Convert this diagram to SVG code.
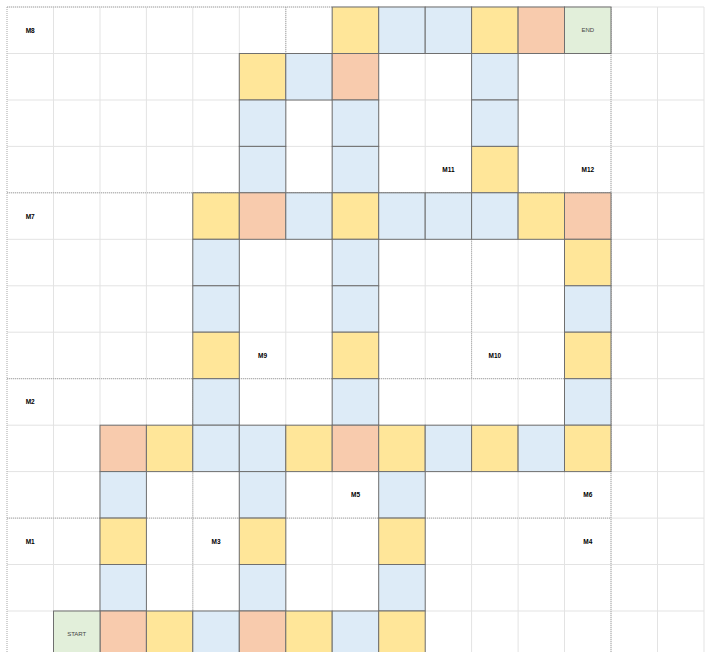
<svg xmlns="http://www.w3.org/2000/svg" width="714" height="652" viewBox="0 0 714 652">
<style>
.grid{stroke:#e3e3e3;stroke-width:1;fill:none}
.dot{stroke:#a6a6a6;stroke-width:1;stroke-dasharray:1 1;fill:none}
.c{stroke:#6f6f6f;stroke-width:1}
.y{fill:#FFE699}
.b{fill:#DDEBF7}
.o{fill:#F8CBAD}
.g{fill:#E2EFDA}
.lbl{font-family:"Liberation Sans",Arial,sans-serif;font-size:6.5px;font-weight:bold;fill:#000;text-anchor:middle}
.se{font-family:"Liberation Sans",Arial,sans-serif;font-size:6px;fill:#444;text-anchor:middle}
</style>
<rect x="0" y="0" width="714" height="652" fill="#fff"/>
<g id="grid">
<path class="grid" d="M53.5 7V652M100 7V652M146.4 7V652M192.8 7V652M239.3 7V652M285.8 7V652M332.2 7V652M378.7 7V652M425.2 7V652M471.6 7V652M518.1 7V652M564.5 7V652M611 7V652M657.5 7V652M704 7V652"/>
<path class="grid" d="M7 7H704M7 53.5H704M7 100H704M7 146.4H704M7 192.8H704M7 239.3H704M7 285.8H704M7 332.2H704M7 378.7H704M7 425.2H704M7 471.6H704M7 518.1H704M7 564.5H704M7 611H704"/>
<path class="dot" d="M7 7V652M7 7H332M7 192.8H611M7 378.7H611M7 518.1H611M611 7V652M192.8 378.7V652M471.6 192.8V378.7M285.8 7V53.5"/>
</g>
<g id="cells">
<g id="r0"><rect class="c y" x="332.2" y="7" width="46.5" height="46.5"/><rect class="c b" x="378.7" y="7" width="46.5" height="46.5"/><rect class="c b" x="425.2" y="7" width="46.4" height="46.5"/><rect class="c y" x="471.6" y="7" width="46.5" height="46.5"/><rect class="c o" x="518.1" y="7" width="46.4" height="46.5"/></g>
<g id="r1"><rect class="c y" x="239.3" y="53.5" width="46.5" height="46.5"/><rect class="c b" x="285.8" y="53.5" width="46.4" height="46.5"/><rect class="c o" x="332.2" y="53.5" width="46.5" height="46.5"/><rect class="c b" x="471.6" y="53.5" width="46.5" height="46.5"/></g>
<g id="r2"><rect class="c b" x="239.3" y="100" width="46.5" height="46.4"/><rect class="c b" x="332.2" y="100" width="46.5" height="46.4"/><rect class="c b" x="471.6" y="100" width="46.5" height="46.4"/></g>
<g id="r3"><rect class="c b" x="239.3" y="146.4" width="46.5" height="46.4"/><rect class="c b" x="332.2" y="146.4" width="46.5" height="46.4"/><rect class="c y" x="471.6" y="146.4" width="46.5" height="46.4"/></g>
<g id="r4"><rect class="c y" x="192.8" y="192.8" width="46.5" height="46.5"/><rect class="c o" x="239.3" y="192.8" width="46.5" height="46.5"/><rect class="c b" x="285.8" y="192.8" width="46.4" height="46.5"/><rect class="c y" x="332.2" y="192.8" width="46.5" height="46.5"/><rect class="c b" x="378.7" y="192.8" width="46.5" height="46.5"/><rect class="c b" x="425.2" y="192.8" width="46.4" height="46.5"/><rect class="c b" x="471.6" y="192.8" width="46.5" height="46.5"/><rect class="c y" x="518.1" y="192.8" width="46.4" height="46.5"/><rect class="c o" x="564.5" y="192.8" width="46.5" height="46.5"/></g>
<g id="r5"><rect class="c b" x="192.8" y="239.3" width="46.5" height="46.5"/><rect class="c b" x="332.2" y="239.3" width="46.5" height="46.5"/><rect class="c y" x="564.5" y="239.3" width="46.5" height="46.5"/></g>
<g id="r6"><rect class="c b" x="192.8" y="285.8" width="46.5" height="46.4"/><rect class="c b" x="332.2" y="285.8" width="46.5" height="46.4"/><rect class="c b" x="564.5" y="285.8" width="46.5" height="46.4"/></g>
<g id="r7"><rect class="c y" x="192.8" y="332.2" width="46.5" height="46.5"/><rect class="c y" x="332.2" y="332.2" width="46.5" height="46.5"/><rect class="c y" x="564.5" y="332.2" width="46.5" height="46.5"/></g>
<g id="r8"><rect class="c b" x="192.8" y="378.7" width="46.5" height="46.5"/><rect class="c b" x="332.2" y="378.7" width="46.5" height="46.5"/><rect class="c b" x="564.5" y="378.7" width="46.5" height="46.5"/></g>
<g id="r9"><rect class="c o" x="100" y="425.2" width="46.4" height="46.4"/><rect class="c y" x="146.4" y="425.2" width="46.4" height="46.4"/><rect class="c b" x="192.8" y="425.2" width="46.5" height="46.4"/><rect class="c b" x="239.3" y="425.2" width="46.5" height="46.4"/><rect class="c y" x="285.8" y="425.2" width="46.4" height="46.4"/><rect class="c o" x="332.2" y="425.2" width="46.5" height="46.4"/><rect class="c y" x="378.7" y="425.2" width="46.5" height="46.4"/><rect class="c b" x="425.2" y="425.2" width="46.4" height="46.4"/><rect class="c y" x="471.6" y="425.2" width="46.5" height="46.4"/><rect class="c b" x="518.1" y="425.2" width="46.4" height="46.4"/><rect class="c y" x="564.5" y="425.2" width="46.5" height="46.4"/></g>
<g id="r10"><rect class="c b" x="100" y="471.6" width="46.4" height="46.5"/><rect class="c b" x="239.3" y="471.6" width="46.5" height="46.5"/><rect class="c b" x="378.7" y="471.6" width="46.5" height="46.5"/></g>
<g id="r11"><rect class="c y" x="100" y="518.1" width="46.4" height="46.4"/><rect class="c y" x="239.3" y="518.1" width="46.5" height="46.4"/><rect class="c y" x="378.7" y="518.1" width="46.5" height="46.4"/></g>
<g id="r12"><rect class="c b" x="100" y="564.5" width="46.4" height="46.5"/><rect class="c b" x="239.3" y="564.5" width="46.5" height="46.5"/><rect class="c b" x="378.7" y="564.5" width="46.5" height="46.5"/></g>
<g id="r13"><rect class="c o" x="100" y="611" width="46.4" height="46.5"/><rect class="c y" x="146.4" y="611" width="46.4" height="46.5"/><rect class="c b" x="192.8" y="611" width="46.5" height="46.5"/><rect class="c o" x="239.3" y="611" width="46.5" height="46.5"/><rect class="c y" x="285.8" y="611" width="46.4" height="46.5"/><rect class="c b" x="332.2" y="611" width="46.5" height="46.5"/><rect class="c y" x="378.7" y="611" width="46.5" height="46.5"/></g>
</g>
<g id="start"><rect class="c g" x="53.5" y="611" width="46.5" height="46.5"/><text class="se" x="76.7" y="636">START</text></g>
<g id="end"><rect class="c g" x="564.5" y="7" width="46.5" height="46.5"/><text class="se" x="587.8" y="32.3">END</text></g>
<g id="labels">
<g id="M8"><text class="lbl" x="30.2" y="32.5">M8</text></g>
<g id="M7"><text class="lbl" x="30.2" y="218.5">M7</text></g>
<g id="M2"><text class="lbl" x="30.2" y="404.3">M2</text></g>
<g id="M1"><text class="lbl" x="30.2" y="543.7">M1</text></g>
<g id="M3"><text class="lbl" x="216" y="543.7">M3</text></g>
<g id="M5"><text class="lbl" x="355.5" y="497.2">M5</text></g>
<g id="M6"><text class="lbl" x="587.8" y="497.2">M6</text></g>
<g id="M4"><text class="lbl" x="587.8" y="543.7">M4</text></g>
<g id="M9"><text class="lbl" x="262.5" y="357.8">M9</text></g>
<g id="M10"><text class="lbl" x="494.8" y="357.8">M10</text></g>
<g id="M11"><text class="lbl" x="448.4" y="172">M11</text></g>
<g id="M12"><text class="lbl" x="587.8" y="172">M12</text></g>
</g>
<g id="connectors"/>
</svg>
